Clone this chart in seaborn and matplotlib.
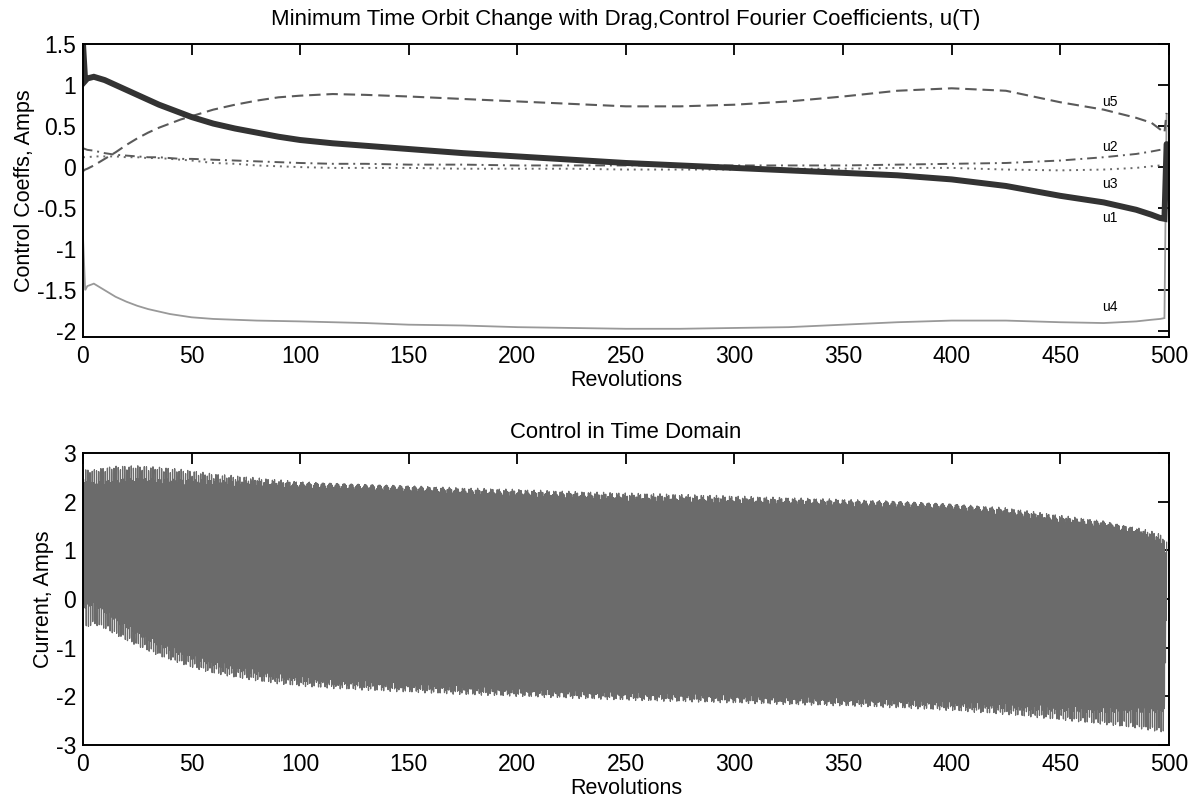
import numpy as np
import pandas as pd
import matplotlib
matplotlib.use("Agg")
import matplotlib.pyplot as plt
import seaborn as sns

# Revolutions at which the Fourier coefficients are tabulated
revs = [0, 1, 2, 5, 10, 15, 20, 25, 30, 35,
        40, 45, 50, 60, 70, 80, 90, 100, 115, 130,
        150, 175, 200, 225, 250, 275, 300, 325, 350, 375,
        400, 425, 450, 470, 485, 492, 496, 498, 499]

# Control Fourier coefficients (Amps)
u1 = [1.50, 1.05, 1.08, 1.10, 1.06, 1.00, 0.94, 0.88, 0.82, 0.76,
      0.71, 0.66, 0.61, 0.53, 0.47, 0.42, 0.37, 0.33, 0.29, 0.26,
      0.22, 0.17, 0.13, 0.09, 0.05, 0.02, -0.01, -0.04, -0.07, -0.10,
      -0.15, -0.23, -0.35, -0.43, -0.52, -0.58, -0.62, -0.63, 0.28]
u2 = [0.23, 0.22, 0.21, 0.20, 0.17, 0.15, 0.14, 0.13, 0.12, 0.12,
      0.11, 0.10, 0.10, 0.09, 0.08, 0.07, 0.06, 0.05, 0.04, 0.04,
      0.03, 0.03, 0.02, 0.02, 0.02, 0.02, 0.02, 0.02, 0.02, 0.03,
      0.04, 0.05, 0.08, 0.12, 0.16, 0.19, 0.21, 0.22, 0.24]
u3 = [0.12, 0.12, 0.12, 0.13, 0.13, 0.13, 0.12, 0.12, 0.11, 0.11,
      0.10, 0.09, 0.08, 0.05, 0.04, 0.02, 0.01, 0.00, -0.01, -0.01,
      -0.01, -0.02, -0.02, -0.02, -0.03, -0.03, -0.03, -0.02, -0.02, -0.01,
      -0.01, -0.03, -0.04, -0.03, -0.01, 0.01, 0.02, 0.03, 0.04]
u4 = [-0.85, -1.50, -1.45, -1.42, -1.50, -1.58, -1.64, -1.69, -1.73, -1.76,
      -1.79, -1.81, -1.83, -1.85, -1.86, -1.87, -1.875, -1.88, -1.89, -1.90,
      -1.92, -1.93, -1.95, -1.96, -1.97, -1.97, -1.96, -1.95, -1.92, -1.89,
      -1.87, -1.87, -1.89, -1.90, -1.88, -1.86, -1.85, -1.84, 0.65]
u5 = [-0.05, -0.03, -0.02, 0.02, 0.10, 0.18, 0.27, 0.35, 0.42, 0.48,
      0.53, 0.58, 0.62, 0.70, 0.76, 0.81, 0.85, 0.87, 0.89, 0.88,
      0.86, 0.83, 0.80, 0.77, 0.74, 0.74, 0.76, 0.80, 0.86, 0.93,
      0.96, 0.93, 0.79, 0.70, 0.60, 0.54, 0.46, 0.42, 0.66]

series_names = ["u1", "u2", "u3", "u4", "u5"]
label_pos = {"u5": (473, 0.79), "u2": (473, 0.25), "u3": (473, -0.20),
             "u1": (473, -0.62), "u4": (473, -1.70)}

x_ticks = [0, 50, 100, 150, 200, 250, 300, 350, 400, 450, 500]
top_yticks = [-2, -1.5, -1, -0.5, 0, 0.5, 1, 1.5]
bot_yticks = [-3, -2, -1, 0, 1, 2, 3]

sns.set_theme(style="white")
plt.rcParams["font.family"] = ["Liberation Sans", "DejaVu Sans"]
plt.rcParams["text.color"] = "black"
plt.rcParams["axes.labelcolor"] = "black"

fig = plt.figure(figsize=(11.89, 7.98), dpi=100)
ax1 = fig.add_axes([0.0698, 0.5777, 0.9132, 0.3672])
ax2 = fig.add_axes([0.0698, 0.0664, 0.9132, 0.3659])

coef = pd.DataFrame({"rev": revs, "u1": u1, "u2": u2, "u3": u3,
                     "u4": u4, "u5": u5})

styles = {
    "u1": dict(color="#333333", lw=4.3, dashes=None),
    "u2": dict(color="#5a5a5a", lw=1.4, dashes=(5, 2.5, 1, 2.5)),
    "u3": dict(color="#6a6a6a", lw=1.4, dashes=(1, 2.5)),
    "u4": dict(color="#999999", lw=1.3, dashes=None),
    "u5": dict(color="#5a5a5a", lw=1.5, dashes=(5.5, 2.8)),
}

for name in ["u4", "u3", "u2", "u5", "u1"]:
    st = styles[name]
    sns.lineplot(data=coef, x="rev", y=name, ax=ax1, color=st["color"],
                 linewidth=st["lw"], estimator=None, sort=False)
    line = ax1.get_lines()[-1]
    if st["dashes"] is not None:
        line.set_dashes(st["dashes"])
    line.set_solid_joinstyle("miter")

for name, (lx, ly) in label_pos.items():
    ax1.text(lx, ly, name, fontsize=10, ha="center", va="center",
             color="black")

# Time-domain control: Fourier series evaluated along the orbit angle
t = np.linspace(0, revs[-1], 9137)
c = {k: np.interp(t, revs, coef[k].to_numpy()) for k in series_names}
theta = 2 * np.pi * t
current = (c["u1"] + c["u2"] * np.cos(theta) + c["u3"] * np.sin(theta)
           + c["u4"] * np.cos(2 * theta) + c["u5"] * np.sin(2 * theta))
signal = pd.DataFrame({"rev": t, "current": current})
sns.lineplot(data=signal, x="rev", y="current", ax=ax2, color="#6b6b6b",
             linewidth=0.9, estimator=None, sort=False)

for ax, yt, ylim in [(ax1, top_yticks, (-2.07, 1.5)),
                     (ax2, bot_yticks, (-3, 3))]:
    ax.set_xlim(0, 500)
    ax.set_ylim(*ylim)
    ax.set_xticks(x_ticks)
    ax.set_yticks(yt)
    ax.set_yticklabels([f"{v:g}" for v in yt])
    ax.tick_params(direction="in", length=8, width=1.3, top=True,
                   right=True, labelsize=16.5, colors="black")
    ax.tick_params(axis="x", pad=6)
    ax.tick_params(axis="y", pad=5)
    for sp in ax.spines.values():
        sp.set_visible(True)
        sp.set_color("black")
        sp.set_linewidth(1.4)
    ax.set_xlabel("Revolutions", fontsize=15.5, labelpad=1)
    ax.grid(False)

ax1.set_ylabel("Control Coeffs, Amps", fontsize=15.5, labelpad=1)
ax2.set_ylabel("Current, Amps", fontsize=15.5, labelpad=1)
ax1.set_title("Minimum Time Orbit Change with Drag,Control Fourier "
              "Coefficients, u(T)", fontsize=15.9, pad=14)
ax2.set_title("Control in Time Domain", fontsize=15.9, pad=11)

fig.savefig("out.png", dpi=100, facecolor="white")
